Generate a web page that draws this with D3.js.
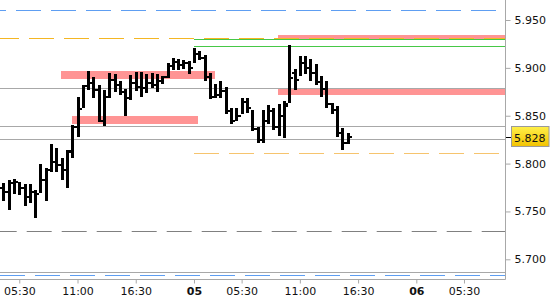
<!DOCTYPE html>
<html>
<head>
<meta charset="utf-8">
<script src="https://cdn.jsdelivr.net/npm/d3@7/dist/d3.min.js"></script>
<style>
  html, body { margin: 0; padding: 0; background: #fff; }
  svg { display: block; }
  text { font-family: "DejaVu Sans", Verdana, sans-serif; font-size: 11px; fill: #111; }
</style>
</head>
<body>
<svg id="chart" width="550" height="300"></svg>
<script>
// ---------------- DATA ----------------
// 30-minute bars, index = trading slot
const highs = [5.780,5.783,5.784,5.781,5.779,5.779,5.772,5.800,5.795,5.820,5.816,5.806,5.814,5.840,5.870,5.882,5.897,5.890,5.882,5.877,
               5.895,5.894,5.886,5.878,5.893,5.896,5.896,5.894,5.895,5.894,5.892,5.905,5.910,5.909,5.908,5.907,5.921,5.918,5.913,5.895,
               5.883,5.886,5.880,5.858,5.858,5.868,5.868,5.856,5.838,5.856,5.861,5.858,5.862,5.865,5.924,5.899,5.912,5.912,5.909,5.904,
               5.892,5.886,5.863,5.860,5.837,5.832];
const lows  = [5.761,5.752,5.768,5.767,5.756,5.759,5.743,5.769,5.761,5.791,5.791,5.783,5.775,5.806,5.828,5.858,5.877,5.869,5.843,5.839,
               5.868,5.875,5.872,5.850,5.866,5.876,5.870,5.874,5.879,5.875,5.883,5.889,5.898,5.898,5.899,5.894,5.905,5.908,5.886,5.867,
               5.868,5.868,5.852,5.841,5.844,5.852,5.853,5.834,5.821,5.821,5.841,5.835,5.829,5.827,5.863,5.877,5.892,5.894,5.886,5.882,
               5.870,5.858,5.852,5.828,5.814,5.820];
const opens = [5.775,5.770,5.780,5.781,5.774,5.765,5.770,5.768,5.783,5.793,5.802,5.798,5.793,5.812,5.838,5.857,5.881,5.884,5.877,5.845,
               5.870,5.887,5.882,5.875,5.869,5.884,5.880,5.879,5.884,5.882,5.886,5.890,5.902,5.906,5.903,5.905,5.900,5.914,5.910,5.890,
               5.870,5.872,5.876,5.855,5.845,5.850,5.864,5.858,5.836,5.825,5.845,5.855,5.838,5.850,5.862,5.895,5.887,5.905,5.900,5.895,
               5.885,5.878,5.862,5.856,5.832,5.822];
const closes= [5.770,5.780,5.781,5.774,5.765,5.770,5.768,5.783,5.793,5.802,5.798,5.793,5.813,5.838,5.857,5.881,5.884,5.877,5.845,5.870,
               5.887,5.882,5.875,5.869,5.884,5.880,5.879,5.884,5.882,5.886,5.890,5.902,5.906,5.903,5.905,5.900,5.914,5.910,5.890,5.870,
               5.872,5.876,5.855,5.845,5.850,5.864,5.858,5.836,5.825,5.845,5.855,5.838,5.850,5.860,5.889,5.887,5.905,5.900,5.895,5.885,
               5.878,5.862,5.856,5.832,5.822,5.828];

const yTickValues = [5.700, 5.750, 5.800, 5.850, 5.900, 5.950];
const xTickSlots  = [3, 14, 25, 36, 45, 56, 67, 78, 87];
const xTickLabels = ["05:30","11:00","16:30","05","05:30","11:00","16:30","06","05:30"];
const xTickBold   = [false,false,false,true,false,false,false,true,false];

const lastPrice = 5.828;

// horizontal levels: value, kind, start slot (null = full width)
const levelValues = [5.9605, 5.9312, 5.9300, 5.9227, 5.8786, 5.8388, 5.8252, 5.8106, 5.7293, 5.6869, 5.6840];
const levelKinds  = ["blueDash","orangeDash","green","green","gray","gray","gray","lightOrangeDash","grayDash","gray","blueDash2"];
const levelStart  = [null, null, 36, 36, null, null, null, 36, null, null, null];

// zones: start slot, end slot (null = to right edge), upper value, lower value
const zoneStart = [10.9, 13.0, 51.9, 51.9];
const zoneEnd   = [40.0, 36.8, null, null];
const zoneHigh  = [5.8967, 5.8496, 5.8786, 5.9343];
const zoneLow   = [5.8883, 5.8412, 5.8716, 5.9291];

// ---------------- CHART ----------------
const W = 550, H = 300;
const plotRight = 505, plotBottom = 279;
const svg = d3.select("#chart");

const x = d3.scaleLinear().domain([-0.64, 94.75]).range([0, plotRight]);
const y = d3.scaleLinear().domain([5.70, 5.95]).range([259.3, 20]);

const levelStyle = {
  blueDash:        { stroke: "#5e9ef2", dash: "25,10", offset: 19 },
  blueDash2:       { stroke: "#5e9ef2", dash: "25,10", offset: 0 },
  orangeDash:      { stroke: "#f4b623", dash: "25,10", offset: 6 },
  lightOrangeDash: { stroke: "#f6c46e", dash: "25,10", offset: 0 },
  grayDash:        { stroke: "#808080", dash: "25,10", offset: 8.3 },
  gray:            { stroke: "#a8a8a8", dash: null, offset: 0 },
  green:           { stroke: "#46c846", dash: null, offset: 0 }
};

const px = v => Math.round(y(v)) + 0.5;

// zones
const zones = zoneStart.map((s, i) => ({ s, e: zoneEnd[i], hi: zoneHigh[i], lo: zoneLow[i] }));
svg.append("g").selectAll("rect").data(zones).join("rect")
  .attr("x", d => Math.round(x(d.s)))
  .attr("width", d => Math.round(d.e === null ? plotRight : x(d.e)) - Math.round(x(d.s)))
  .attr("y", d => Math.round(y(d.hi)))
  .attr("height", d => Math.max(1, Math.round(y(d.lo)) - Math.round(y(d.hi))))
  .attr("fill", "#ff9494");

// levels
const levels = levelValues.map((v, i) => ({ v, kind: levelKinds[i], s: levelStart[i] }));
svg.append("g").selectAll("line").data(levels).join("line")
  .attr("x1", d => d.s === null ? 0 : Math.round(x(d.s)))
  .attr("x2", plotRight)
  .attr("y1", d => px(d.v))
  .attr("y2", d => px(d.v))
  .attr("stroke", d => levelStyle[d.kind].stroke)
  .attr("stroke-width", 1)
  .attr("stroke-dasharray", d => levelStyle[d.kind].dash)
  .attr("stroke-dashoffset", d => levelStyle[d.kind].offset);

// borders
svg.append("line").attr("x1", plotRight + 0.5).attr("x2", plotRight + 0.5)
  .attr("y1", 0).attr("y2", plotBottom + 0.5).attr("stroke", "#a8a8a8");
svg.append("line").attr("x1", 0).attr("x2", plotRight + 0.5)
  .attr("y1", plotBottom + 0.5).attr("y2", plotBottom + 0.5).attr("stroke", "#a8a8a8");

// OHLC bars
const bars = highs.map((h, i) => ({ i, h, l: lows[i], o: opens[i], c: closes[i] }));
const gBars = svg.append("g").attr("fill", "#000");
bars.forEach(d => {
  const cx = Math.round(x(d.i));
  const yh = Math.round(y(d.h)), yl = Math.round(y(d.l));
  gBars.append("rect").attr("x", cx - 1).attr("width", 3)
    .attr("y", yh).attr("height", Math.max(2, yl - yh));
  gBars.append("rect").attr("x", cx - 3).attr("width", 2)
    .attr("y", Math.round(y(d.o)) - 1).attr("height", 2);
  gBars.append("rect").attr("x", cx + 2).attr("width", 2)
    .attr("y", Math.round(y(d.c)) - 1).attr("height", 2);
});

// right axis
const yAxis = d3.axisRight(y).tickValues(yTickValues).tickSize(5).tickPadding(4)
  .tickFormat(d3.format(".3f"));
const gy = svg.append("g").attr("transform", `translate(${plotRight + 0.5},0)`).call(yAxis);
gy.select(".domain").remove();
gy.selectAll(".tick line").attr("stroke", "#a8a8a8");
gy.selectAll(".tick text").attr("fill", "#111").style("font-family", "DejaVu Sans").style("font-size", "11px");

// bottom axis
const xAxis = d3.axisBottom(x).tickValues(xTickSlots).tickSize(4).tickPadding(4)
  .tickFormat((d, i) => xTickLabels[i]);
const gx = svg.append("g").attr("transform", `translate(0,${plotBottom + 0.5})`).call(xAxis);
gx.select(".domain").remove();
gx.selectAll(".tick line").attr("stroke", "#a8a8a8");
gx.selectAll(".tick text").attr("fill", "#111")
  .style("font-family", "DejaVu Sans").style("font-size", "11px")
  .style("font-weight", (d, i) => xTickBold[i] ? "bold" : "normal");

// last price marker
const defs = svg.append("defs");
const grad = defs.append("linearGradient").attr("id", "yel").attr("x1", 0).attr("x2", 0).attr("y1", 0).attr("y2", 1);
grad.append("stop").attr("offset", "0%").attr("stop-color", "#fff04a");
grad.append("stop").attr("offset", "100%").attr("stop-color", "#f2c200");
const ly = Math.round(y(lastPrice));
svg.append("line").attr("x1", plotRight + 1).attr("x2", plotRight + 6)
  .attr("y1", ly + 0.5).attr("y2", ly + 0.5).attr("stroke", "#000");
svg.append("rect").attr("x", 511.5).attr("y", ly - 10.5).attr("width", 37.5).attr("height", 20)
  .attr("fill", "url(#yel)").attr("stroke", "#9a9a9a");
svg.append("text").attr("x", 514).attr("y", ly + 4.5).text(d3.format(".3f")(lastPrice));
</script>
</body>
</html>
